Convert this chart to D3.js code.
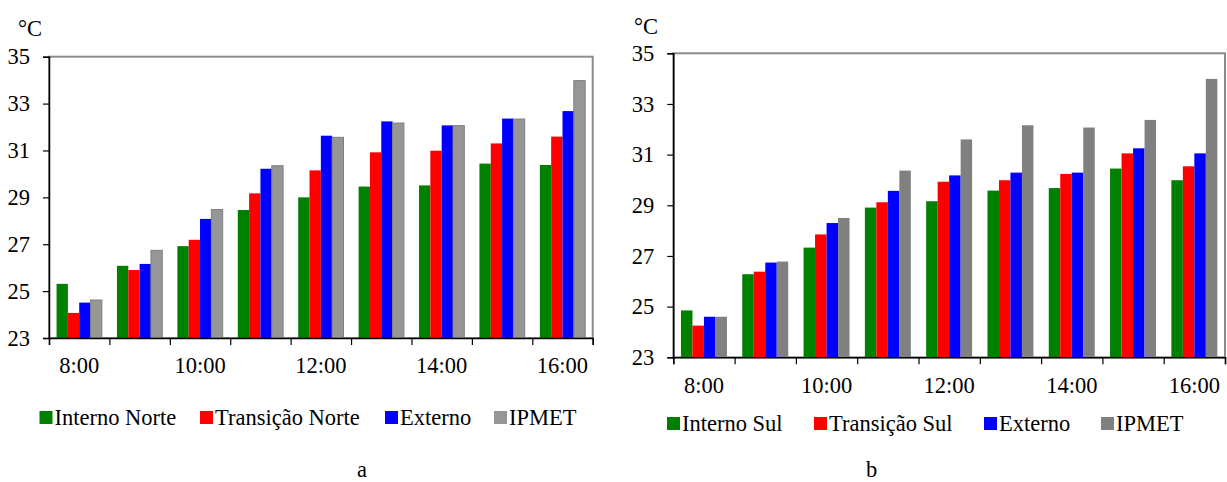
<!DOCTYPE html>
<html>
<head>
<meta charset="utf-8">
<script src="https://cdn.jsdelivr.net/npm/d3@7"></script>
<style>
  body { margin: 0; background: #fff; }
  svg { display: block; }
</style>
</head>
<body>
<svg id="chart" width="1227" height="482" font-family="'Liberation Serif', 'Times New Roman', serif"></svg>
<script>
// ---------- DATA ----------
const categories = ["8:00", "9:00", "10:00", "11:00", "12:00", "13:00", "14:00", "15:00", "16:00"];
const shownLabels = ["8:00", "10:00", "12:00", "14:00", "16:00"];
const yTicks = [23, 25, 27, 29, 31, 33, 35];
const yDomain = [23, 35];
const unitLabel = "°C";

// Chart a (Norte)
const seriesNamesA = ["Interno Norte", "Transição Norte", "Externo", "IPMET"];
const internoNorte   = [25.31, 26.08, 26.92, 28.46, 29.00, 29.46, 29.51, 30.44, 30.38];
const transicaoNorte = [24.07, 25.90, 27.19, 29.17, 30.15, 30.92, 30.99, 31.30, 31.59];
const externoA       = [24.51, 26.16, 28.08, 30.22, 31.63, 32.24, 32.07, 32.36, 32.68];
const ipmetA         = [24.62, 26.74, 28.48, 30.35, 31.56, 32.17, 32.06, 32.34, 33.98];

// Chart b (Sul)
const seriesNamesB = ["Interno Sul", "Transição Sul", "Externo", "IPMET"];
const internoSul   = [24.85, 26.28, 27.33, 28.91, 29.16, 29.58, 29.68, 30.45, 29.99];
const transicaoSul = [24.25, 26.38, 27.85, 29.12, 29.93, 29.99, 30.24, 31.05, 30.54];
const externoB     = [24.60, 26.74, 28.30, 29.57, 30.18, 30.29, 30.29, 31.25, 31.05];
const ipmetB       = [24.60, 26.78, 28.50, 30.37, 31.60, 32.16, 32.07, 32.37, 33.99];

const panelLabels = ["a", "b"];

// ---------- STYLE / LAYOUT ----------
const FONT = 22.5;
const FAMILY = "'Liberation Serif', 'Times New Roman', serif";
const colorsA = [{f:"#008000"}, {f:"#ff0000"}, {f:"#0000ff"}, {f:"#969696", s:"#7f7f7f"}];
const colorsB = [{f:"#008000"}, {f:"#ff0000"}, {f:"#0000ff"}, {f:"#808080"}];

const panels = [
  { x0: 49, x1: 592.7, y0: 56.7, y1: 338, names: seriesNamesA,
    values: [internoNorte, transicaoNorte, externoA, ipmetA], colors: colorsA,
    unit: {x: 18, y: 36}, legendY: 425, legendX: [39.5, 200, 385, 494],
    labelXOff: 35, panel: {x: 362, y: 477} },
  { x0: 673.3, x1: 1225, y0: 53.3, y1: 357.3, names: seriesNamesB,
    values: [internoSul, transicaoSul, externoB, ipmetB], colors: colorsB,
    unit: {x: 634, y: 34}, legendY: 431, legendX: [667, 814, 984, 1101],
    labelXOff: 36, panel: {x: 871.5, y: 477} }
];

const svg = d3.select("#chart");

function styleText(sel) {
  return sel.attr("font-family", FAMILY).attr("font-size", FONT).attr("fill", "#000")
    .style("font-family", FAMILY).style("font-size", FONT + "px");
}

panels.forEach((p, pi) => {
  const g = svg.append("g");
  const x = d3.scaleBand().domain(categories).range([p.x0, p.x1]).paddingInner(0.25).paddingOuter(0.125);
  const xs = d3.scaleBand().domain(d3.range(p.names.length)).range([0, x.bandwidth()]);
  const y = d3.scaleLinear().domain(yDomain).range([p.y1, p.y0]);
  const xb = d3.scaleLinear().domain([0, categories.length]).range([p.x0, p.x1]);

  // plot frame (gray top/right)
  g.append("rect")
    .attr("x", p.x0).attr("y", p.y0)
    .attr("width", p.x1 - p.x0).attr("height", p.y1 - p.y0)
    .attr("fill", "none").attr("stroke", "#8c8c8c").attr("stroke-width", 2);

  // bars
  p.names.forEach((name, si) => {
    const c = p.colors[si];
    g.append("g").selectAll("rect")
      .data(p.values[si])
      .join("rect")
      .attr("x", (d, i) => x(categories[i]) + xs(si))
      .attr("width", xs.bandwidth())
      .attr("y", d => y(d))
      .attr("height", d => y(yDomain[0]) - y(d))
      .attr("fill", c.f)
      .attr("stroke", c.s || "none")
      .attr("stroke-width", c.s ? 1 : 0);
  });

  // y axis
  const ya = g.append("g").attr("transform", `translate(${p.x0},0)`)
    .call(d3.axisLeft(y).tickValues(yTicks).tickSize(6).tickPadding(13).tickFormat(d3.format("d")));
  ya.attr("font-family", FAMILY).attr("font-size", FONT);
  ya.select(".domain").attr("stroke", "#000").attr("stroke-width", 1.5);
  ya.selectAll(".tick line").attr("stroke", "#000").attr("stroke-width", 1.2);
  styleText(ya.selectAll("text"));

  // x axis boundary ticks
  const xa = g.append("g").attr("transform", `translate(0,${p.y1})`)
    .call(d3.axisBottom(xb).tickValues(d3.range(categories.length + 1)).tickSize(7).tickFormat(""));
  xa.select(".domain").attr("stroke", "#000").attr("stroke-width", 1.5);
  xa.selectAll(".tick line").attr("stroke", "#000").attr("stroke-width", 1.2);

  // x axis labels
  const xl = g.append("g").attr("transform", `translate(0,${p.y1})`)
    .call(d3.axisBottom(x).tickValues(shownLabels).tickSize(0));
  xl.attr("font-family", FAMILY).attr("font-size", FONT);
  xl.select(".domain").remove();
  styleText(xl.selectAll("text").attr("y", p.labelXOff).attr("dy", 0));

  // unit
  styleText(g.append("text").attr("x", p.unit.x).attr("y", p.unit.y).text(unitLabel));

  // legend
  const lg = g.append("g");
  p.names.forEach((name, si) => {
    const lx = p.legendX[si];
    lg.append("rect").attr("x", lx).attr("y", p.legendY - 14).attr("width", 13).attr("height", 13)
      .attr("fill", p.colors[si].f);
    styleText(lg.append("text").attr("x", lx + 15).attr("y", p.legendY).text(name));
  });

  // panel label
  styleText(g.append("text").attr("x", p.panel.x).attr("y", p.panel.y).attr("text-anchor", "middle")
    .text(panelLabels[pi]));
});
</script>
</body>
</html>
